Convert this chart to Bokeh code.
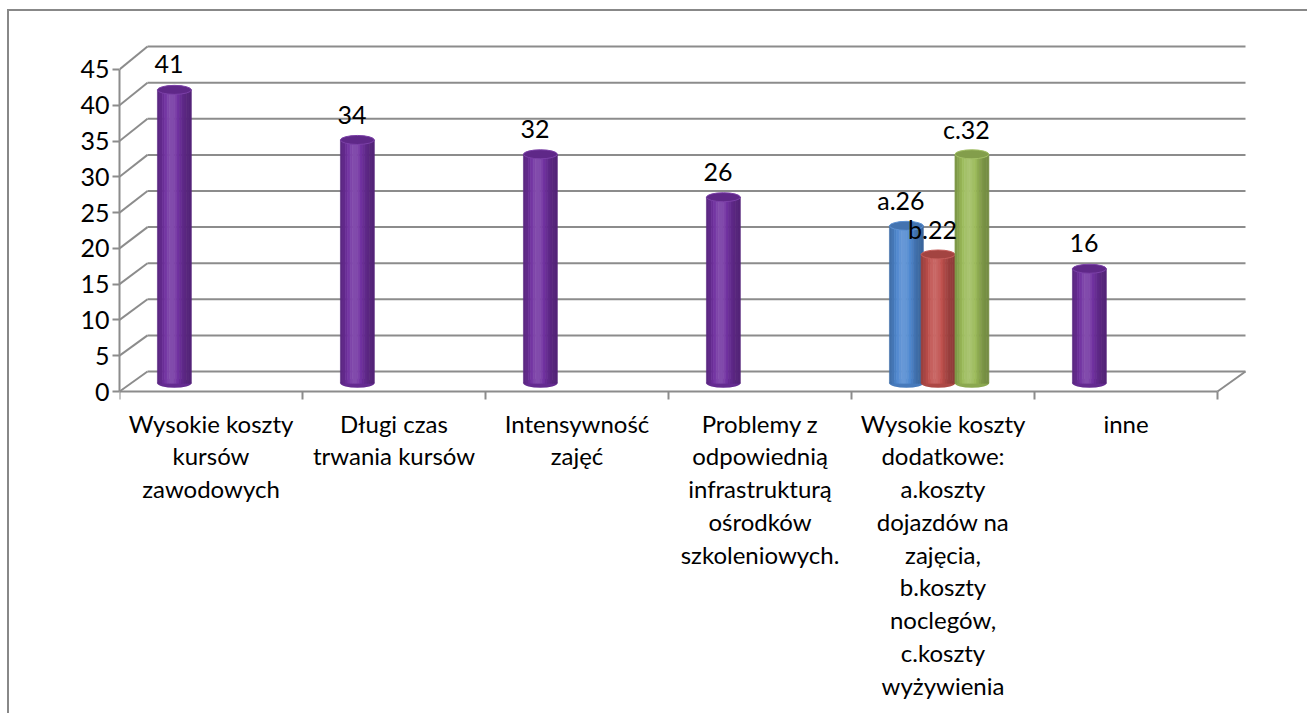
import math
from bokeh.plotting import figure
from bokeh.models import Range1d, FixedTicker, ColumnDataSource
from bokeh.core.properties import value
from bokeh.embed import file_html
from bokeh.resources import INLINE

# ---------------- data ----------------
categories = [
    "Wysokie koszty\nkursów\nzawodowych",
    "Długi czas\ntrwania kursów",
    "Intensywność\nzajęć",
    "Problemy z\nodpowiednią\ninfrastrukturą\nośrodków\nszkoleniowych.",
    "Wysokie koszty\ndodatkowe:\na.koszty\ndojazdów na\nzajęcia,\nb.koszty\nnoclegów,\nc.koszty\nwyżywienia",
    "inne",
]
main_values = [41, 34, 32, 26, 22, 16]
main_labels = ["41", "34", "32", "26", "a.26", "16"]
b_value = 18
b_label = "b.22"
c_value = 32
c_label = "c.32"
extra_category = 4
y_ticks = [0, 5, 10, 15, 20, 25, 30, 35, 40, 45]

# ---------------- styling / geometry ----------------
PURPLE = "#7030A0"
BLUE = "#4F88D0"
RED = "#C0504D"
GREEN = "#9BBB59"
GRID = "#8C8C8C"
FONT = "Lato"
FS = "25px"
FS_CAT = "24px"

PX_X = 183.0          # pixels per category
PX_Y = 7.156          # pixels per unit
DEPTH_DX = 28.0 / PX_X
DEPTH_DY = 20.0 / PX_Y
DEPTH_K = 1.009
BASE = 1.15           # bar floor (mid depth)
BAR_W = 0.185
SLOTS = [-0.20, -0.027, 0.158]
N_STRIPS = 14

W, H = 1300, 704
ML, MR = 110, 44
ZERO_FROM_TOP = 380   # canvas px from top to value 0
frame_w = W - ML - MR

p = figure(width=W, height=H, output_backend="svg", toolbar_location=None,
           x_axis_location=None,
           x_range=Range1d(0, frame_w / PX_X),
           y_range=Range1d(-(H - ZERO_FROM_TOP) / PX_Y, ZERO_FROM_TOP / PX_Y),
           min_border_left=ML, min_border_right=MR, min_border_top=0, min_border_bottom=0)
p.styles = {"margin-left": "7px", "margin-top": "9px",
            "border-left": "2px solid #888888", "border-top": "2px solid #888888"}
p.outline_line_color = None
p.xgrid.visible = False
p.ygrid.visible = False
p.background_fill_color = "white"
p.border_fill_color = "white"

# y axis
ya = p.yaxis[0]
ya.ticker = FixedTicker(ticks=y_ticks)
ya.bounds = (0, 45)
ya.axis_line_color = GRID
ya.axis_line_width = 2
ya.major_tick_line_color = GRID
ya.major_tick_line_width = 2
ya.major_tick_out = 7
ya.major_tick_in = 0
ya.minor_tick_line_color = None
ya.major_label_standoff = 3
ya.major_label_text_font = FONT
ya.major_label_text_font_size = FS
ya.major_label_text_color = "black"

ncat = len(categories)

# front floor edge (category axis) with ticks at category boundaries
TICK = 8.0 / PX_Y
ax0 = [0] + list(range(ncat + 1))
ay0 = [0] + [0] * (ncat + 1)
ax1 = [ncat] + list(range(ncat + 1))
ay1 = [0] + [-TICK] * (ncat + 1)
p.segment(x0=ax0, y0=ay0, x1=ax1, y1=ay1, line_color=GRID, line_width=2)

# 3D walls
def back_y(v):
    return v * DEPTH_K + DEPTH_DY

x0s, y0s, x1s, y1s = [], [], [], []
for v in y_ticks:
    x0s.append(0); y0s.append(v); x1s.append(DEPTH_DX); y1s.append(back_y(v))
    x0s.append(DEPTH_DX); y0s.append(back_y(v)); x1s.append(ncat + DEPTH_DX); y1s.append(back_y(v))
x0s.append(ncat); y0s.append(0); x1s.append(ncat + DEPTH_DX); y1s.append(back_y(0))
p.segment(x0=x0s, y0=y0s, x1=x1s, y1=y1s, line_color=GRID, line_width=2)

# bars (cylinders)
def hex_to_rgb(h):
    h = h.lstrip("#")
    return [int(h[i:i + 2], 16) for i in (0, 2, 4)]

def shade(h, f):
    rgb = hex_to_rgb(h)
    if f <= 1:
        out = [max(0, min(255, int(c * f))) for c in rgb]
    else:
        out = [max(0, min(255, int(c + (255 - c) * (f - 1)))) for c in rgb]
    return "#%02x%02x%02x" % tuple(out)

bars = []
for i, v in enumerate(main_values):
    col = BLUE if i == extra_category else PURPLE
    bars.append((i + 0.5 + SLOTS[0], v, col, main_labels[i]))
bars.append((extra_category + 0.5 + SLOTS[1], b_value, RED, b_label))
bars.append((extra_category + 0.5 + SLOTS[2], c_value, GREEN, c_label))

ELL_H = 9.0 / PX_Y
for (cx, v, col, lab) in bars:
    p.ellipse(x=[cx], y=[BASE], width=BAR_W, height=ELL_H,
              fill_color=shade(col, 0.9), line_color=None)
    sx, stop, scol = [], [], []
    for j in range(N_STRIPS):
        t = (j + 0.5) / N_STRIPS
        f = 0.74 + 0.40 * math.exp(-((t - 0.42) / 0.3) ** 2)
        sx.append(cx - BAR_W / 2 + t * BAR_W)
        stop.append(v + BASE)
        scol.append(shade(col, f))
    src = ColumnDataSource(dict(x=sx, top=stop, c=scol))
    p.vbar(x="x", top="top", bottom=BASE, width=BAR_W / N_STRIPS + 0.0005, source=src,
           fill_color="c", line_color="c", line_width=0.6)
    p.ellipse(x=[cx], y=[v + BASE], width=BAR_W, height=ELL_H,
              fill_color=shade(col, 0.85), line_color=shade(col, 1.08), line_width=1)

# data labels
p.text(x=[b[0] - 0.03 for b in bars], y=[b[1] + 4.7 for b in bars], text=[b[3] for b in bars],
       text_font=value(FONT), text_font_size=FS, text_align="center", text_baseline="middle",
       text_color="black")

# category labels
p.text(x=[i + 0.5 for i in range(ncat)], y=[-17.0 / PX_Y] * ncat, text=categories,
       text_font=value(FONT), text_font_size=FS_CAT, text_align="center",
       text_baseline="top", text_line_height=1.13, text_color="black")

open("out.html", "w").write(file_html(p, INLINE))
